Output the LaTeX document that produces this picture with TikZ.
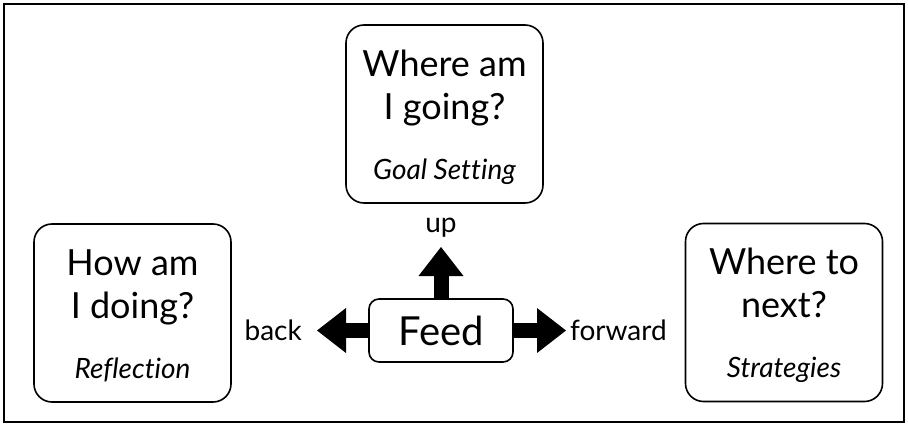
\documentclass[tikz,border=0pt]{standalone}
\usepackage{fontspec}
\setmainfont{Lato}[Ligatures=NoCommon]
\usetikzlibrary{arrows.meta,positioning}
\begin{document}
\begin{tikzpicture}[x=1pt,y=-1pt,
  qbox/.style={draw=black, line width=1.6pt, rounded corners=18pt, inner sep=0pt,
    minimum width=197pt, minimum height=178pt, align=center,
    font=\fontsize{36}{43}\selectfont},
  fat/.style={line width=15pt, -{Triangle[length=29pt,width=45pt,line width=0pt]}},
  lbl/.style={inner sep=0pt, font=\fontsize{28}{34}\selectfont}]
\useasboundingbox (0,0) rectangle (908,425);
\draw [line width=1.2pt] (4,4) rectangle (904,422);
\node [qbox] (going) at (444.5,114) {\rule{0pt}{51pt}Where am\\ I going?\\[17pt]{\fontsize{28}{32}\selectfont\itshape Goal Setting}\rule[-24pt]{0pt}{24pt}};
\node [qbox] (doing) at (132.5,313) {\rule{0pt}{51pt}How am\\ I doing?\\[17pt]{\fontsize{28}{32}\selectfont\itshape Reflection}\rule[-24pt]{0pt}{24pt}};
\node [qbox] (next) at (784,312.5) {\rule{0pt}{51pt}Where to\\ next?\\[17pt]{\fontsize{28}{32}\selectfont\itshape Strategies}\rule[-24pt]{0pt}{24pt}};
\node [draw=black, line width=1.6pt, rounded corners=10pt, inner sep=0pt, minimum width=144pt, minimum height=63pt, font=\fontsize{40}{48}\selectfont] (feed) at (441,330.5) {Feed};
\coordinate (uptip) at (441,247);
\coordinate (backtip) at (317,330.5);
\coordinate (fwdtip) at (566,330.5);
\draw [fat] (feed.north) -- (uptip);
\draw [fat] (feed.west) -- (backtip);
\draw [fat] (feed.east) -- (fwdtip);
\node [lbl, above=9pt of uptip] (up) {up};
\node [lbl, left=15pt of backtip] (back) {back};
\node [lbl, right=4pt of fwdtip] (fwd) {forward};
\end{tikzpicture}
\end{document}
